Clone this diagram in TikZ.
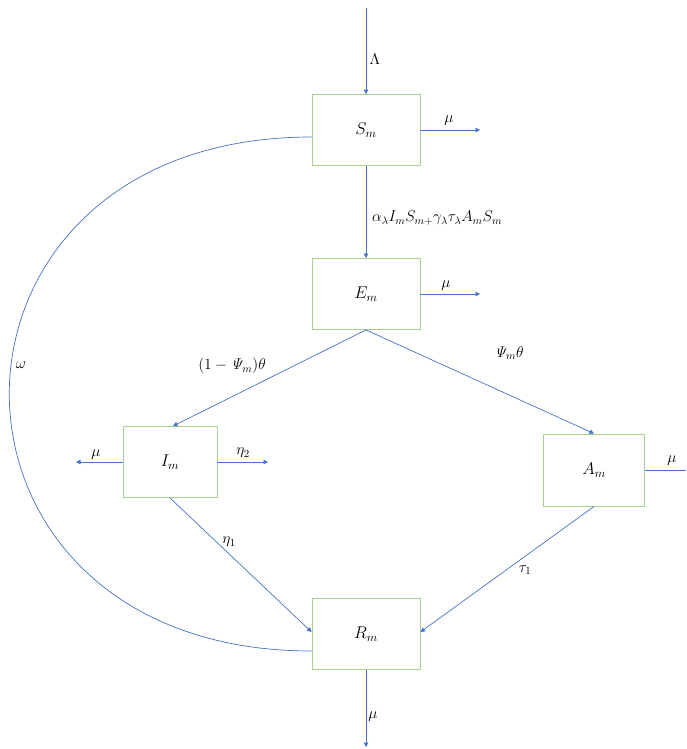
\documentclass[tikz,border=0pt]{standalone}
\usepackage{fix-cm}
\usetikzlibrary{arrows.meta}
\definecolor{flowblue}{HTML}{4472C4}
\definecolor{boxgreen}{HTML}{A9D18E}
\begin{document}
\begin{tikzpicture}[x=1pt,y=-1pt,
  compartment/.style={draw=boxgreen,line width=0.9pt,minimum height=71pt,
    inner sep=0pt,font=\fontsize{17}{19}\selectfont},
  flow/.style={draw=flowblue,line width=0.7pt,-{Triangle[width=4.5pt,length=4.5pt]}},
  plain/.style={draw=flowblue,line width=0.7pt},
  rate/.style={inner sep=0pt,font=\fontsize{15.5}{17}\selectfont}]
\useasboundingbox (0,0) rectangle (686,749);

% compartments
\node[compartment,minimum width=108pt] (S) at (366,130) {$S_m$};
\node[compartment,minimum width=108pt] (E) at (366,294) {$E_m$};
\node[compartment,minimum width=94pt]  (I) at (170,462) {$I_m$};
\node[compartment,minimum width=101pt,minimum height=72pt] (A) at (594,470) {$A_m$};
\node[compartment,minimum width=108pt] (R) at (366,634) {$R_m$};

% free ends of the inflow and outflows
\coordinate (in)   at (366,8);
\coordinate (Sout) at (480,130);
\coordinate (Eout) at (480,294);
\coordinate (Iout) at (76,462);
\coordinate (Iet)  at (268,462);
\coordinate (Aout) at (686,470);
\coordinate (Rout) at (366,747);

% flows
\draw[flow] (in) -- (S.north);
\draw[flow] (S.east) -- (Sout);
\draw[flow] (S.south) -- (E.north);
\draw[flow] (E.east) -- (Eout);
\draw[flow] (E.south) -- ([xshift=3pt]I.north);
\draw[flow] (E.south) -- (A.north);
\draw[flow] (I.west) -- (Iout);
\draw[flow] (I.east) -- (Iet);
\draw[plain] (A.east) -- (Aout);
\draw[flow] (I.south) -- ([yshift=2pt]R.west);
\draw[flow] (A.south) -- ([yshift=2pt]R.east);
\draw[flow] (R.south) -- (Rout);

% waning immunity loop
\draw[plain] ([yshift=-7pt]S.west) .. controls +(-403,0) and +(-403,0) .. ([yshift=-17pt]R.west);

% rates
\node[rate] (lLambda) at (375,59) {$\Lambda$};
\node[rate] (lmuS) at (449,121) {$\mu$};
\node[rate,anchor=west] (lforce) at (372,218) {$\alpha_\lambda I_m S_{m+}\gamma_\lambda\tau_\lambda A_m S_m$};
\node[rate] (lmuE) at (446,286) {$\mu$};
\node[rate] (ltheta1) at (232,366) {$(1-\mathit{\Psi}_m)\theta$};
\node[rate] (ltheta2) at (509,353) {$\mathit{\Psi}_m\theta$};
\node[rate] (lmuI) at (96,455) {$\mu$};
\node[rate] (leta2) at (243,453) {$\eta_2$};
\node[rate] (lmuA) at (672,461) {$\mu$};
\node[rate] (leta1) at (229,542) {$\eta_1$};
\node[rate] (ltau) at (525,570) {$\tau_1$};
\node[rate] (lomega) at (21,365) {$\omega$};
\node[rate] (lmuR) at (373,717) {$\mu$};
\end{tikzpicture}
\end{document}
